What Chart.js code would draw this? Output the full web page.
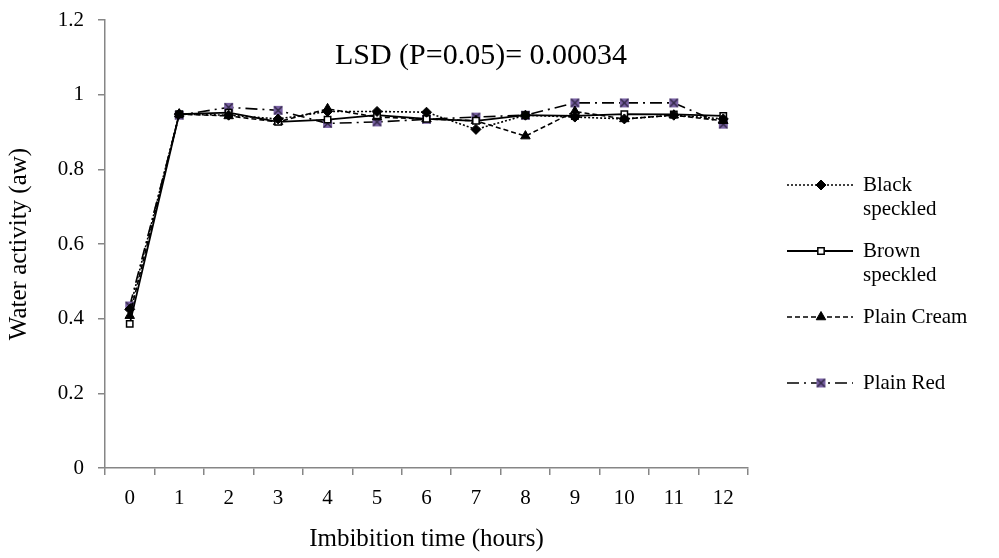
<!DOCTYPE html>
<html>
<head>
<meta charset="utf-8">
<script src="https://cdn.jsdelivr.net/npm/chart.js@4/dist/chart.umd.min.js"></script>
<style>
  html, body { margin: 0; padding: 0; background: #fff; }
  #wrap { width: 999px; height: 558px; }
</style>
</head>
<body>
<div id="wrap"><canvas id="graphicWater"></canvas></div>
<script>
// datos
const hours = ["0", "1", "2", "3", "4", "5", "6", "7", "8", "9", "10", "11", "12"];
const blackSpeckled = [0.425, 0.948, 0.945, 0.935, 0.955, 0.955, 0.953, 0.907, 0.945, 0.94, 0.935, 0.945, 0.935];
const brownSpeckled = [0.386, 0.948, 0.952, 0.927, 0.933, 0.945, 0.935, 0.93, 0.945, 0.943, 0.948, 0.947, 0.943];
const plainCream = [0.408, 0.948, 0.943, 0.927, 0.962, 0.94, 0.935, 0.93, 0.889, 0.955, 0.935, 0.945, 0.93];
const plainRed = [0.434, 0.945, 0.966, 0.958, 0.923, 0.927, 0.934, 0.94, 0.945, 0.978, 0.978, 0.978, 0.921];
const lsdText = "LSD (P=0.05)= 0.00034";

const serif = "'Liberation Serif', 'Times New Roman', serif";
const axisGrey = "#868686";

// marcador morado con X (Plain Red)
function makeRedMarker() {
  const c = document.createElement("canvas");
  c.width = 11;
  c.height = 11;
  const g = c.getContext("2d");
  g.fillStyle = "#7b63a6";
  g.fillRect(1, 1, 9, 9);
  g.strokeStyle = "#2e2540";
  g.lineWidth = 1.3;
  g.beginPath();
  g.moveTo(1.5, 1.5); g.lineTo(9.5, 9.5);
  g.moveTo(9.5, 1.5); g.lineTo(1.5, 9.5);
  g.stroke();
  return c;
}
const redMarker = makeRedMarker();

// titulo LSD y leyenda dibujados a mano
const extrasPlugin = {
  id: "extras",
  afterDraw(chart) {
    const ctx = chart.ctx;
    ctx.save();
    ctx.fillStyle = "#000";
    ctx.font = "30px " + serif;
    ctx.textAlign = "center";
    ctx.textBaseline = "middle";
    ctx.fillText(lsdText, 481, 56);

    const entries = [
      { y: 185, lines: ["Black", "speckled"] },
      { y: 251, lines: ["Brown", "speckled"] },
      { y: 317, lines: ["Plain Cream"] },
      { y: 383, lines: ["Plain Red"] },
    ];
    chart.data.datasets.forEach((ds, i) => {
      const e = entries[i];
      ctx.strokeStyle = ds.borderColor;
      ctx.lineWidth = ds.borderWidth;
      ctx.setLineDash(ds.borderDash || []);
      ctx.beginPath();
      ctx.moveTo(787, e.y);
      ctx.lineTo(853, e.y);
      ctx.stroke();
      ctx.setLineDash([]);
      ctx.fillStyle = ds.pointBackgroundColor;
      ctx.strokeStyle = ds.pointBorderColor;
      ctx.lineWidth = ds.pointBorderWidth || 1;
      Chart.helpers.drawPoint(ctx, {
        pointStyle: ds.pointStyle,
        radius: ds.pointRadius,
        borderWidth: ds.pointBorderWidth || 1,
        rotation: 0,
      }, 821, e.y);
      ctx.fillStyle = "#000";
      ctx.font = "21px " + serif;
      ctx.textAlign = "left";
      ctx.textBaseline = "middle";
      e.lines.forEach((t, k) => ctx.fillText(t, 863, e.y + k * 24));
    });
    ctx.restore();
  },
};

const chrt = document.getElementById("graphicWater").getContext("2d");
new Chart(chrt, {
  type: "line",
  data: {
    labels: hours,
    datasets: [
      {
        label: "Black speckled",
        data: blackSpeckled,
        borderColor: "#000",
        borderWidth: 1.6,
        borderDash: [2, 2],
        pointStyle: "rectRot",
        pointRadius: 5,
        pointBackgroundColor: "#000",
        pointBorderColor: "#000",
        pointBorderWidth: 1,
      },
      {
        label: "Brown speckled",
        data: brownSpeckled,
        borderColor: "#000",
        borderWidth: 1.8,
        borderDash: [],
        pointStyle: "rect",
        pointRadius: 4.5,
        pointBackgroundColor: "#fff",
        pointBorderColor: "#000",
        pointBorderWidth: 1.5,
      },
      {
        label: "Plain Cream",
        data: plainCream,
        borderColor: "#000",
        borderWidth: 1.6,
        borderDash: [5, 3],
        pointStyle: "triangle",
        pointRadius: 5.5,
        pointBackgroundColor: "#000",
        pointBorderColor: "#000",
        pointBorderWidth: 1,
      },
      {
        label: "Plain Red",
        data: plainRed,
        borderColor: "#000",
        borderWidth: 1.6,
        borderDash: [12, 5, 2, 5],
        pointStyle: redMarker,
        pointRadius: 5,
        pointBackgroundColor: "#7b63a6",
        pointBorderColor: "#2e2540",
        pointBorderWidth: 1,
      },
    ],
  },
  options: {
    responsive: true,
    maintainAspectRatio: false,
    animation: false,
    layout: { padding: { top: 20, right: 251, left: 0, bottom: 0 } },
    plugins: {
      legend: { display: false },
      title: { display: false },
      tooltip: { enabled: false },
    },
    scales: {
      x: {
        offset: true,
        grid: {
          offset: true,
          drawOnChartArea: false,
          drawTicks: true,
          tickLength: 7,
          color: axisGrey,
          lineWidth: 1.5,
        },
        border: { color: axisGrey, width: 1.5 },
        ticks: {
          color: "#000",
          font: { family: serif, size: 21 },
          padding: 11,
          maxRotation: 0,
        },
        title: {
          display: true,
          text: "Imbibition time (hours)",
          color: "#000",
          font: { family: serif, size: 25 },
          padding: { top: 10 },
        },
        afterFit(s) { s.height = 90; },
      },
      y: {
        min: 0,
        max: 1.2,
        ticks: {
          stepSize: 0.2,
          color: "#000",
          font: { family: serif, size: 21 },
          padding: 14,
          callback: (v) => String(+v.toFixed(1)),
        },
        grid: {
          drawOnChartArea: false,
          drawTicks: true,
          tickLength: 7,
          color: axisGrey,
          lineWidth: 1.5,
        },
        border: { color: axisGrey, width: 1.5 },
        title: {
          display: true,
          text: "Water activity (aw)",
          color: "#000",
          font: { family: serif, size: 25 },
          padding: { bottom: 4 },
        },
        afterFit(s) {
          s.width = 105;
          s.paddingTop = 0;
          s.paddingBottom = 0;
        },
      },
    },
  },
  plugins: [extrasPlugin],
});
</script>
</body>
</html>
